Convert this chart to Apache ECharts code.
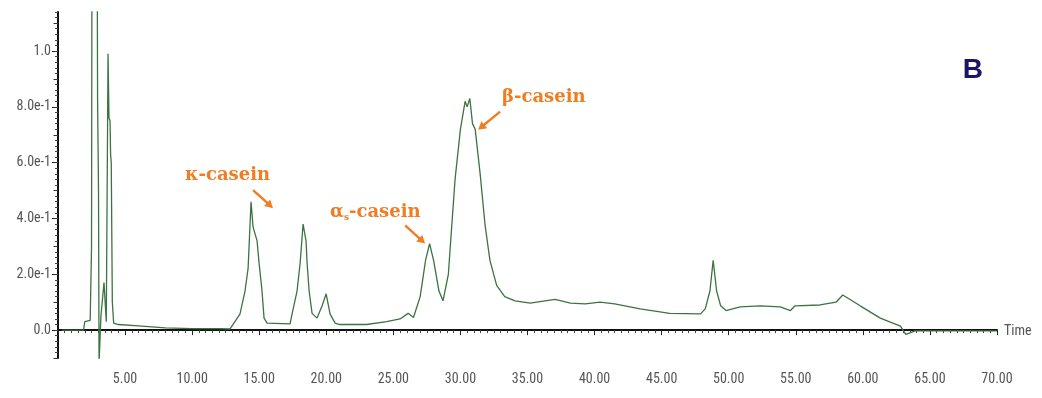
<!DOCTYPE html>
<html>
<head>
<meta charset="utf-8">
<title>Chromatogram B</title>
<script src="https://cdn.jsdelivr.net/npm/echarts@6/dist/echarts.min.js"></script>
<style>
  html, body { margin: 0; padding: 0; background: #ffffff; }
  #chart { width: 1042px; height: 398px; }
</style>
</head>
<body>
<div id="chart"></div>
<script>
// Retention time (min) and detector response of the trace
const retentionTime = [
  0.3, 1.9, 2.0, 2.4, 2.5, 2.54, 2.91, 2.95, 3.02, 3.06, 3.2, 3.43, 3.6, 3.65,
  3.73, 3.8, 3.88, 3.92, 3.97, 4.05, 4.15, 4.5, 6, 8, 10, 12, 12.83,
  13.57, 13.94, 14.17, 14.39, 14.54, 14.84, 14.99, 15.21, 15.36, 15.59, 17.3,
  17.45, 17.82, 18.05, 18.27, 18.49, 18.57, 18.72, 18.94, 19.31, 19.69, 19.99,
  20.28, 20.66, 21, 23, 24.5, 25.5, 26.1, 26.5, 27.0, 27.4, 27.7, 28.0, 28.4,
  28.7, 29.1, 29.23, 29.6, 30.0, 30.35, 30.5, 30.7, 30.9, 31.1, 31.47, 31.84,
  32.2, 32.7, 33.3, 34.07, 35.2, 36.3, 37.06, 38.2, 39.3, 40.4, 41.5, 43.4,
  45.6, 47.9, 48.25, 48.6, 48.84, 49.1, 49.4, 49.8, 50.85, 52.35, 53.84, 54.6,
  54.95, 56.8, 58.0, 58.5, 59.8, 61.3, 62.8, 63.2, 63.9, 70
];
const absorbance = [
  0.0, 0.0, 0.03, 0.035, 0.3, 1.6, 1.6, 0.83, 0.5, -0.12, 0.05, 0.17, 0.03, 0.025,
  0.99, 0.76, 0.75, 0.63, 0.6, 0.1, 0.025, 0.02, 0.015, 0.008, 0.005, 0.005, 0.004,
  0.058, 0.14, 0.22, 0.46, 0.37, 0.32, 0.24, 0.14, 0.043, 0.025, 0.022,
  0.058, 0.14, 0.24, 0.38, 0.32, 0.24, 0.14, 0.06, 0.043, 0.087, 0.13,
  0.058, 0.025, 0.02, 0.02, 0.03, 0.04, 0.06, 0.045, 0.12, 0.25, 0.31, 0.25, 0.14,
  0.105, 0.2, 0.29, 0.54, 0.72, 0.82, 0.80, 0.83, 0.74, 0.72, 0.56, 0.375,
  0.25, 0.16, 0.12, 0.105, 0.097, 0.105, 0.11, 0.097, 0.094, 0.1, 0.094, 0.076,
  0.06, 0.058, 0.076, 0.14, 0.25, 0.14, 0.087, 0.07, 0.083, 0.087, 0.083, 0.07,
  0.087, 0.09, 0.1, 0.126, 0.087, 0.043, 0.014, -0.015, -0.003, -0.003
];

// Axis tick labels
const xTickValues = [5, 10, 15, 20, 25, 30, 35, 40, 45, 50, 55, 60, 65, 70];
const xTickLabels = ['5.00', '10.00', '15.00', '20.00', '25.00', '30.00', '35.00',
  '40.00', '45.00', '50.00', '55.00', '60.00', '65.00', '70.00'];
const yTickValues = [0, 0.2, 0.4, 0.6, 0.8, 1.0];
const yTickLabels = ['0.0', '2.0e-1', '4.0e-1', '6.0e-1', '8.0e-1', '1.0'];

// Peak annotations: label, label anchor [t, v], arrow start and end [t, v]
const peakNames = ['κ-casein', 'αs-casein', 'β-casein'];
const peakLabelAt = [[9.47, 0.556], [20.28, 0.422], [33.1, 0.834]];
const peakArrowFrom = [[14.54, 0.502], [25.88, 0.375], [32.96, 0.783]];
const peakArrowTo = [[16.03, 0.437], [27.37, 0.31], [31.32, 0.718]];
const panelLetter = 'B';
const panelLetterAt = [68.2, 0.93];

const Y_MIN = -0.1, Y_MAX = 1.14;
const minorY = [];
for (let i = -5; i <= 57; i++) minorY.push(+(i * 0.02).toFixed(2));
const midY = [-0.1, 0.1, 0.3, 0.5, 0.7, 0.9, 1.1];

const axisFont = { fontFamily: "'Liberation Sans Narrow', 'Roboto Condensed', 'Liberation Sans', Arial, sans-serif", fontSize: 14, color: '#555' };
const ORANGE = '#ef7d22';

const chart = echarts.init(document.getElementById('chart'), null, { renderer: 'canvas' });

const yBase = {
  type: 'value', min: Y_MIN, max: Y_MAX, position: 'left',
  splitLine: { show: false }
};

chart.setOption({
  animation: false,
  grid: { left: 58, right: 45, top: 12, bottom: 40 },
  xAxis: {
    type: 'value', min: 0, max: 70, interval: 5,
    name: 'Time', nameLocation: 'end', nameGap: 7,
    nameTextStyle: Object.assign({ verticalAlign: 'top', padding: [-6, 0, 0, 0] }, axisFont),
    axisLine: { show: true, lineStyle: { color: '#111', width: 2 } },
    axisTick: { show: true, length: 5, inside: false, lineStyle: { color: '#222', width: 1 } },
    minorTick: { show: true, splitNumber: 10, length: 3, lineStyle: { color: '#444', width: 1 } },
    axisLabel: Object.assign({
      margin: 14,
      customValues: xTickValues,
      formatter: v => xTickLabels[xTickValues.indexOf(v)] || ''
    }, axisFont),
    splitLine: { show: false }
  },
  yAxis: [
    Object.assign({}, yBase, {
      axisLine: { show: true, onZero: false, lineStyle: { color: '#111', width: 2 } },
      axisTick: { show: true, length: 6, customValues: yTickValues, lineStyle: { color: '#222', width: 1 } },
      axisLabel: Object.assign({
        margin: 7,
        customValues: yTickValues,
        formatter: v => {
          const i = yTickValues.findIndex(x => Math.abs(x - v) < 1e-6);
          return i >= 0 ? yTickLabels[i] : '';
        }
      }, axisFont)
    }),
    Object.assign({}, yBase, {
      axisLine: { show: false },
      axisTick: { show: true, length: 3, customValues: minorY, lineStyle: { color: '#444', width: 1 } },
      axisLabel: { show: false }
    }),
    Object.assign({}, yBase, {
      axisLine: { show: false },
      axisTick: { show: true, length: 4.5, customValues: midY, lineStyle: { color: '#333', width: 1 } },
      axisLabel: { show: false }
    })
  ],
  series: [{
    type: 'line',
    data: retentionTime.map((t, i) => [t, absorbance[i]]),
    symbol: 'none',
    smooth: false,
    clip: true,
    lineStyle: { color: '#3b7341', width: 1.3 }
  }]
});

// Annotations placed in data coordinates
const px = p => chart.convertToPixel({ gridIndex: 0 }, p);
const labelStyle = {
  fontFamily: "'DejaVu Serif', 'Liberation Serif', serif",
  fontWeight: 'bold', fontSize: 18, fill: ORANGE
};
const graphics = [];
peakNames.forEach((name, i) => {
  const [x, y] = px(peakLabelAt[i]);
  if (name.startsWith('αs')) {
    graphics.push({
      type: 'text', x: x, y: y,
      style: {
        text: '{a|α}{s|s}{a|' + name.slice(2) + '}',
        verticalAlign: 'middle', align: 'left',
        rich: {
          a: Object.assign({}, labelStyle),
          s: Object.assign({}, labelStyle, { fontSize: 9, padding: [11, 0, 0, 0] })
        }
      }
    });
  } else {
    graphics.push({
      type: 'text', x: x, y: y,
      style: Object.assign({ text: name, verticalAlign: 'middle', align: 'left' }, labelStyle)
    });
  }
  // arrow: shaft plus a filled head at the end point
  const [x1, y1] = px(peakArrowFrom[i]);
  const [x2, y2] = px(peakArrowTo[i]);
  const ang = Math.atan2(y2 - y1, x2 - x1);
  const hl = 8, hw = 4.5;
  const bx0 = x2 - hl * Math.cos(ang), by0 = y2 - hl * Math.sin(ang);
  graphics.push({
    type: 'line',
    shape: { x1: x1, y1: y1, x2: bx0 + 1 * Math.cos(ang), y2: by0 + 1 * Math.sin(ang) },
    style: { stroke: ORANGE, lineWidth: 2.4 }
  });
  graphics.push({
    type: 'polygon',
    shape: {
      points: [
        [x2, y2],
        [bx0 + hw * Math.sin(ang), by0 - hw * Math.cos(ang)],
        [bx0 - hw * Math.sin(ang), by0 + hw * Math.cos(ang)]
      ]
    },
    style: { fill: ORANGE }
  });
});
const [bx, by] = px(panelLetterAt);
graphics.push({
  type: 'text', x: bx, y: by,
  style: {
    text: panelLetter, align: 'center', verticalAlign: 'middle',
    fontFamily: "'Liberation Sans', Arial, sans-serif", fontWeight: 'bold',
    fontSize: 28, fill: '#1b1766'
  }
});
chart.setOption({ graphic: graphics });
</script>
</body>
</html>
